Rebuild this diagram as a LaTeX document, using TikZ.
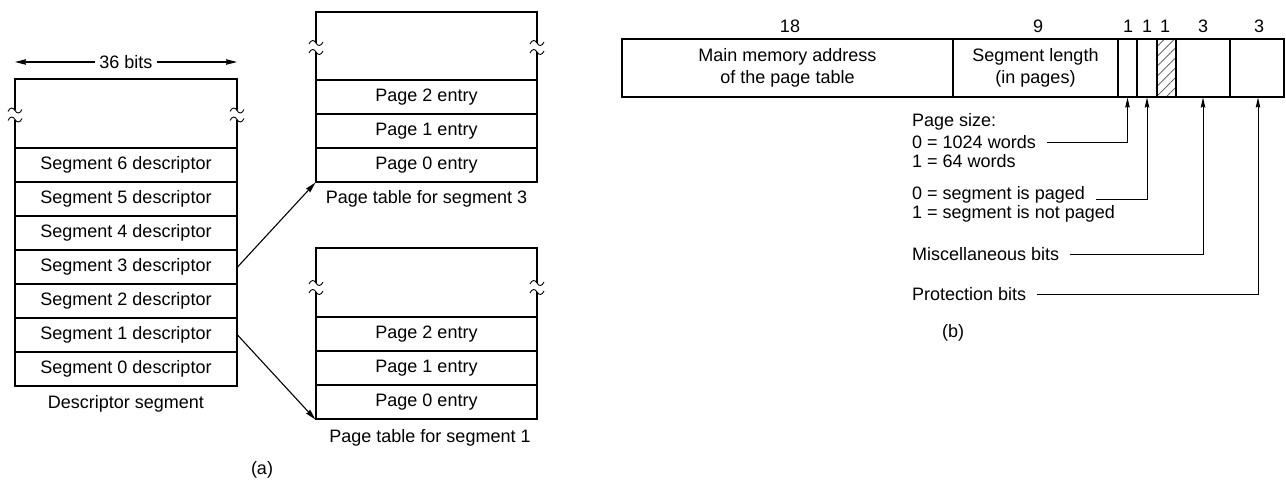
\documentclass[tikz,border=0pt]{standalone}
\usepackage{fontspec}
\setmainfont{Liberation Sans}
\usetikzlibrary{arrows.meta,patterns.meta}

\tikzset{
  every node/.style={font=\fontsize{18}{22}\selectfont},
  lw/.style={line width=1.1pt},
  row/.style={draw, lw, minimum width=221pt, minimum height=34pt, inner sep=0pt},
  field/.style={draw, lw, minimum height=58pt, inner sep=0pt, align=center},
  txt/.style={inner sep=0pt},
  lbl/.style={inner sep=0pt, anchor=west},
  arr/.style={lw, -{Stealth[length=11pt,width=5.5pt,inset=1pt]}},
  uparr/.style={line width=0.9pt, -{Stealth[length=10pt,width=4.5pt,inset=1pt]}},
  wbreak/.pic={
    \draw[line width=0.9pt] (-7,1) .. controls (-5,-3.5) and (-2,-3.5) .. (0,0)
                            .. controls (2,3.5) and (5,3.5) .. (7,-1);
  }
}

\begin{document}
\begin{tikzpicture}[x=1pt,y=-1pt]
\useasboundingbox (0,0) rectangle (1286,481);

% ---------------- (a) descriptor segment ----------------
\node[txt] (bits) at (126,62) {36 bits};
\coordinate (bl) at (15,62);
\coordinate (br) at (237,62);
\draw[arr] ([xshift=-4pt]bits.west) -- (bl);
\draw[arr] ([xshift=4pt]bits.east) -- (br);

% open (broken) top part of the descriptor segment
\draw[lw] (15,110) -- (15,79) -- (237,79) -- (237,110);
\draw[lw] (15,120) -- (15,148);
\draw[lw] (237,120) -- (237,148);
\pic at (15,110.5) {wbreak};
\pic at (15,119.5) {wbreak};
\pic at (237,110.5) {wbreak};
\pic at (237,119.5) {wbreak};

\node[row, minimum width=222pt] (s6) at (126,165) {Segment 6 descriptor};
\node[row, minimum width=222pt] (s5) at (126,199) {Segment 5 descriptor};
\node[row, minimum width=222pt] (s4) at (126,233) {Segment 4 descriptor};
\node[row, minimum width=222pt] (s3) at (126,267) {Segment 3 descriptor};
\node[row, minimum width=222pt] (s2) at (126,301) {Segment 2 descriptor};
\node[row, minimum width=222pt] (s1) at (126,335) {Segment 1 descriptor};
\node[row, minimum width=222pt] (s0) at (126,369) {Segment 0 descriptor};
\node[txt] (dcap) at (126,404) {Descriptor segment};

% ---------------- page table for segment 3 ----------------
\draw[lw] (316,43) -- (316,12) -- (537,12) -- (537,43);
\draw[lw] (316,52) -- (316,80);
\draw[lw] (537,52) -- (537,80);
\pic at (316,43) {wbreak};
\pic at (316,52) {wbreak};
\pic at (537,43) {wbreak};
\pic at (537,52) {wbreak};
\node[row] (ta2) at (426.5,97)  {Page 2 entry};
\node[row] (ta1) at (426.5,131) {Page 1 entry};
\node[row] (ta0) at (426.5,165) {Page 0 entry};
\node[txt] (tacap) at (426.5,199) {Page table for segment 3};

% ---------------- page table for segment 1 ----------------
\draw[lw] (316,283) -- (316,248) -- (537,248) -- (537,283);
\draw[lw] (316,292) -- (316,317);
\draw[lw] (537,292) -- (537,317);
\pic at (316,283) {wbreak};
\pic at (316,292) {wbreak};
\pic at (537,283) {wbreak};
\pic at (537,292) {wbreak};
\node[row] (tb2) at (426.5,334) {Page 2 entry};
\node[row] (tb1) at (426.5,368) {Page 1 entry};
\node[row] (tb0) at (426.5,402) {Page 0 entry};
\node[txt] (tbcap) at (430,438) {Page table for segment 1};

% descriptors point to their page tables
\draw[arr] (s3.east) -- (ta0.south west);
\draw[arr] (s1.east) -- (tb0.south west);

\node[txt] (capa) at (262,470) {(a)};

% ---------------- (b) descriptor word layout ----------------
\node[field, minimum width=331pt]  (addr) at (787.5,68) {Main memory address\\of the page table};
\node[field, minimum width=165pt]  (len)  at (1035.5,68) {Segment length\\(in pages)};
\node[field, minimum width=19pt]   (b1)   at (1127.5,68) {};
\node[field, minimum width=20pt]   (b2)   at (1147,68) {};
\node[field, minimum width=19pt, pattern={Lines[angle=45,distance=7pt,line width=0.7pt]}, pattern color=black!70] (b3) at (1166.5,68) {};
\node[field, minimum width=54pt]   (misc) at (1203,68) {};
\node[field, minimum width=54pt]   (prot) at (1257,68) {};

\node[txt] (n18) at (790,26) {18};
\node[txt] (n9)  at (1038,26) {9};
\node[txt] (n1a) at (1128,26) {1};
\node[txt] (n1b) at (1147,26) {1};
\node[txt] (n1c) at (1165,26) {1};
\node[txt] (n3a) at (1203,26) {3};
\node[txt] (n3b) at (1259,26) {3};

\node[lbl] (ps)  at (912,122) {Page size:};
\node[lbl] (ps0) at (912,142) {0 = 1024 words};
\node[lbl] (ps1) at (912,161) {1 = 64 words};
\node[lbl] (pg0) at (912,195) {0 = segment is paged};
\node[lbl] (pg1) at (912,214) {1 = segment is not paged};
\node[lbl] (mb)  at (912,254) {Miscellaneous bits};
\node[lbl] (pb)  at (912,294) {Protection bits};

\draw[uparr] ([xshift=11pt]ps0.east) -| (b1.south);
\draw[uparr] ([xshift=11pt,yshift=-4pt]pg0.east) -| (b2.south);
\draw[uparr] ([xshift=11pt]mb.east) -| (misc.south);
\draw[uparr] ([xshift=11pt]pb.east) -| ([xshift=1pt]prot.south);

\node[txt] (capb) at (953,333) {(b)};
\end{tikzpicture}
\end{document}
